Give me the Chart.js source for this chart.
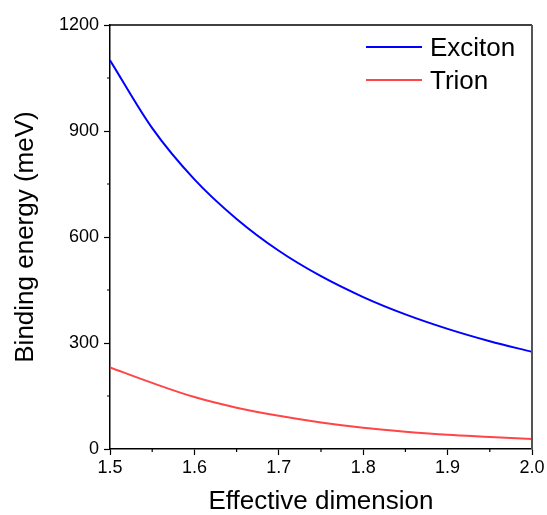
<!DOCTYPE html>
<html>
<head>
<meta charset="utf-8">
<script src="https://cdn.jsdelivr.net/npm/chart.js@4"></script>
<style>
  html, body { margin: 0; padding: 0; background: #fff; }
  #wrap { width: 547px; height: 515px; }
</style>
</head>
<body>
<div id="wrap"><canvas id="chart" width="547" height="515"></canvas></div>
<script>
// effective dimension (x) and binding energies in meV
const dims = [1.5, 1.55, 1.6, 1.65, 1.7, 1.75, 1.8, 1.85, 1.9, 1.95, 2.0];
const exciton = [1100, 908, 763, 651, 561, 489, 430, 381, 340, 305, 275];
const trion = [231, 187, 147, 117, 94, 75, 60, 49, 40, 34, 28];
const seriesNames = ["Exciton", "Trion"];
const xTicks = [1.5, 1.6, 1.7, 1.8, 1.9, 2.0];
const yTicks = [0, 300, 600, 900, 1200];

const FONT = "'Liberation Sans', Arial, sans-serif";
Chart.defaults.font.family = FONT;
Chart.defaults.color = "#000";

const toPoints = vals => dims.map((d, i) => ({ x: d, y: vals[i] }));

// minor ticks, frame on top/right, and the legend inside the plot
const extras = {
  id: "extras",
  afterDraw(chart) {
    const { ctx, chartArea: a, scales: { x, y } } = chart;
    ctx.save();
    ctx.strokeStyle = "#000";
    ctx.lineWidth = 1.2;
    ctx.beginPath();
    for (let i = 0; i < xTicks.length - 1; i++) {
      const px = x.getPixelForValue((xTicks[i] + xTicks[i + 1]) / 2);
      ctx.moveTo(px, a.bottom);
      ctx.lineTo(px, a.bottom + 3);
    }
    for (let i = 0; i < yTicks.length - 1; i++) {
      const py = y.getPixelForValue((yTicks[i] + yTicks[i + 1]) / 2);
      ctx.moveTo(a.left, py);
      ctx.lineTo(a.left - 3, py);
    }
    ctx.stroke();

    // top + right frame
    ctx.lineWidth = 1.5;
    ctx.strokeStyle = "#000";
    ctx.beginPath();
    ctx.moveTo(a.left, a.top);
    ctx.lineTo(a.right, a.top);
    ctx.stroke();
    ctx.strokeStyle = "#555";
    ctx.lineWidth = 2;
    ctx.beginPath();
    ctx.moveTo(a.right, a.top);
    ctx.lineTo(a.right, a.bottom);
    ctx.stroke();

    // legend
    ctx.font = "26px " + FONT;
    ctx.textBaseline = "alphabetic";
    ctx.textAlign = "left";
    chart.data.datasets.forEach((ds, i) => {
      const ly = 47 + i * 33;
      ctx.strokeStyle = ds.borderColor;
      ctx.lineWidth = 2;
      ctx.beginPath();
      ctx.moveTo(366, ly);
      ctx.lineTo(422, ly);
      ctx.stroke();
      ctx.fillStyle = "#000";
      ctx.fillText(ds.label, 430, ly + 9);
    });
    ctx.restore();
  }
};

new Chart(document.getElementById("chart"), {
  type: "line",
  data: {
    datasets: [
      {
        label: seriesNames[0],
        data: toPoints(exciton),
        borderColor: "#0000ff",
        borderWidth: 2,
        pointRadius: 0,
        cubicInterpolationMode: "monotone"
      },
      {
        label: seriesNames[1],
        data: toPoints(trion),
        borderColor: "#ff4646",
        borderWidth: 2,
        pointRadius: 0,
        cubicInterpolationMode: "monotone"
      }
    ]
  },
  options: {
    responsive: false,
    animation: false,
    layout: { padding: { top: 25, right: 15, left: 0, bottom: 0 } },
    plugins: { legend: { display: false }, tooltip: { enabled: false } },
    scales: {
      x: {
        type: "linear",
        min: 1.5,
        max: 2.0,
        afterBuildTicks: s => { s.ticks = xTicks.map(v => ({ value: v })); },
        afterFit: s => { s.height = 66; },
        ticks: {
          font: { size: 18 },
          padding: 2,
          maxRotation: 0,
          callback: v => Number(v).toFixed(1)
        },
        grid: { drawOnChartArea: false, tickLength: 6, tickColor: "#000", tickWidth: 1.2 },
        border: { color: "#000", width: 1.5 },
        title: {
          display: true,
          text: "Effective dimension",
          font: { size: 26, lineHeight: 1 },
          padding: { top: 0, bottom: 0 }
        }
      },
      y: {
        min: 0,
        max: 1200,
        afterBuildTicks: s => { s.ticks = yTicks.map(v => ({ value: v })); },
        afterFit: s => { s.width = 110; },
        ticks: { font: { size: 18 }, padding: 5, callback: v => String(v) },
        grid: { drawOnChartArea: false, tickLength: 6, tickColor: "#000", tickWidth: 1.2 },
        border: { color: "#000", width: 1.5 },
        title: {
          display: true,
          text: "Binding energy (meV)",
          font: { size: 26, lineHeight: 1 },
          padding: { top: 13, bottom: 0 }
        }
      }
    }
  },
  plugins: [extras]
});
</script>
</body>
</html>
